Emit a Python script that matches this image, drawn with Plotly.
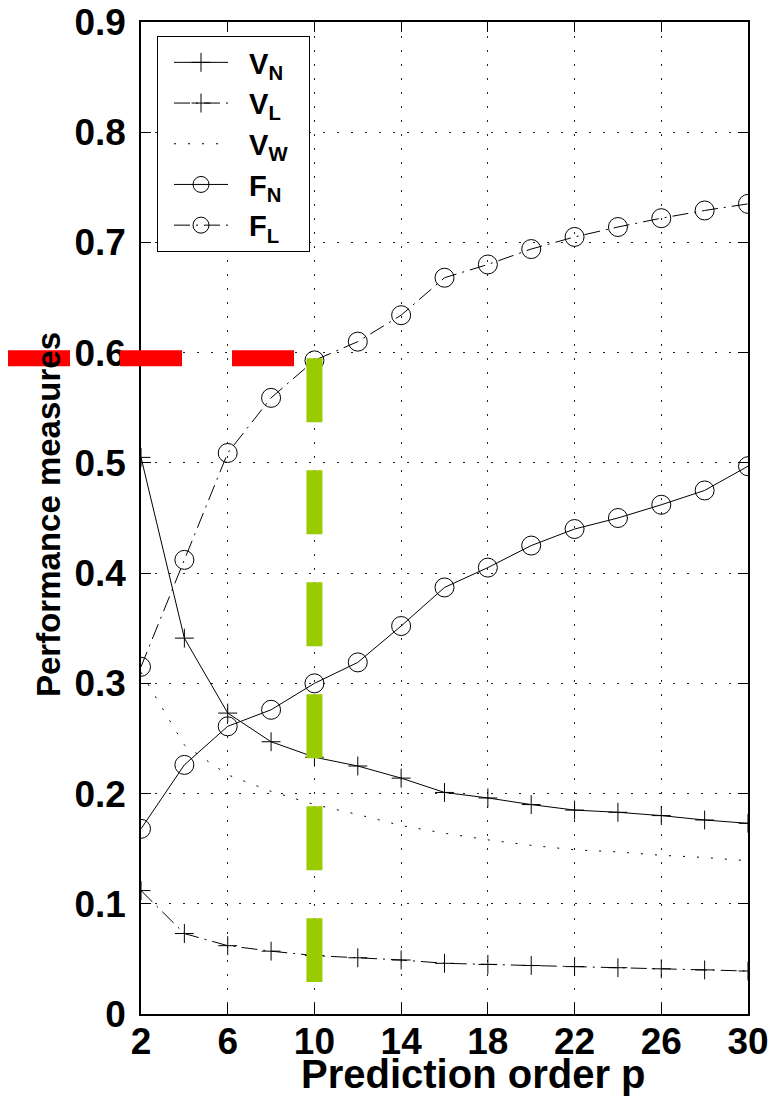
import plotly.graph_objects as go

# ---- data ----
p = [2, 4, 6, 8, 10, 12, 14, 16, 18, 20, 22, 24, 26, 28, 30]
V_N = [0.505, 0.341, 0.273, 0.247, 0.233, 0.225, 0.214, 0.201, 0.196, 0.190, 0.185, 0.183, 0.180, 0.176, 0.173]
V_L = [0.112, 0.073, 0.062, 0.057, 0.053, 0.051, 0.049, 0.046, 0.045, 0.044, 0.043, 0.042, 0.041, 0.040, 0.039]
V_W = [0.310, 0.244, 0.217, 0.202, 0.190, 0.181, 0.171, 0.164, 0.158, 0.153, 0.149, 0.147, 0.144, 0.142, 0.139]
F_N = [0.168, 0.226, 0.261, 0.276, 0.300, 0.319, 0.352, 0.387, 0.405, 0.425, 0.440, 0.450, 0.462, 0.475, 0.497]
F_L = [0.315, 0.412, 0.509, 0.559, 0.593, 0.610, 0.634, 0.668, 0.680, 0.694, 0.705, 0.714, 0.722, 0.729, 0.735]

x_tick_vals = [2, 6, 10, 14, 18, 22, 26, 30]
x_tick_text = ["2", "6", "10", "14", "18", "22", "26", "30"]
y_tick_vals = [0, 0.1, 0.2, 0.3, 0.4, 0.5, 0.6, 0.7, 0.8, 0.9]
y_tick_text = ["0", "0.1", "0.2", "0.3", "0.4", "0.5", "0.6", "0.7", "0.8", "0.9"]

highlight_p = 10         # selected prediction order (green marker line)
highlight_level = 0.595  # level of the red marker line
green_bottom = 0.029

# ---- styling ----
FONT = "Liberation Sans"
DASHDOT = "16px,6px,2px,6px"
DOTTED = "2px,12px"
NB = "\u00a0"

fig = go.Figure()

def add_series(y, name, dash, symbol):
    marker = dict(color="black", size=1, opacity=0)
    mode = "lines"
    if symbol == "plus":
        mode = "lines+markers"
        marker = dict(symbol="cross-thin-open", size=13.5, color="black",
                      line=dict(color="black", width=1))
    elif symbol == "circle":
        mode = "lines+markers"
        marker = dict(symbol="circle-open", size=19, color="black",
                      line=dict(color="black", width=1))
    fig.add_trace(go.Scatter(
        x=p, y=y, name=NB * 2 + name + NB * 2, mode=mode,
        line=dict(color="black", width=1, dash=dash),
        marker=marker,
    ))

add_series(V_N, "V<sub>N</sub>", "solid", "plus")
add_series(V_L, "V<sub>L</sub>", DASHDOT, "plus")
add_series(V_W, "V<sub>W</sub>", DOTTED, None)
add_series(F_N, "F<sub>N</sub>", "solid", "circle")
add_series(F_L, "F<sub>L</sub>", DASHDOT, "circle")

L, R, T, B = 141, 27, 22, 83
W, H = 775, 1097
plot_w = W - L - R
plot_h = H - T - B
y_max = 0.9

axis_common = dict(
    showline=True, linecolor="black", linewidth=1.5, mirror="ticks",
    ticks="inside", ticklen=10, tickcolor="black", tickwidth=1,
    showgrid=True, gridcolor="#222222", gridwidth=1, griddash=DOTTED,
    zeroline=False, automargin=False,
    tickfont=dict(family=FONT, size=37, color="black", weight="bold"),
)

fig.update_layout(
    template="none",
    width=W, height=H,
    margin=dict(l=L, r=R, t=T, b=B, pad=0, autoexpand=False),
    paper_bgcolor="white", plot_bgcolor="white",
    xaxis=dict(range=[2, 30], tickvals=x_tick_vals, ticktext=x_tick_text,
               ticklabelstandoff=-6, **axis_common),
    yaxis=dict(range=[0, y_max], tickvals=y_tick_vals, ticktext=y_tick_text,
               ticklabelstandoff=6, **axis_common),
    showlegend=True,
    legend=dict(
        x=(157 - L) / plot_w, y=1 - (36 - T) / plot_h,
        xanchor="left", yanchor="top",
        bgcolor="white", bordercolor="black", borderwidth=1,
        font=dict(family=FONT, size=29, color="black", weight="bold"),
        itemwidth=54, tracegroupgap=0, indentation=11,
    ),
    annotations=[
        dict(text="Prediction order p", xref="paper", yref="paper",
             x=(474 - L) / plot_w, y=-(1074 - (H - B)) / plot_h,
             showarrow=False, xanchor="center", yanchor="middle",
             font=dict(family=FONT, size=40, color="black", weight="bold")),
        dict(text="Performance measures", xref="paper", yref="paper",
             x=(48 - L) / plot_w, y=1 - (515 - T) / plot_h,
             showarrow=False, xanchor="center", yanchor="middle", textangle=-90,
             font=dict(family=FONT, size=33, color="black", weight="bold")),
    ],
    shapes=[
        dict(type="line", xref="paper", yref="paper",
             x0=(8 - L) / plot_w, x1=(295 - L) / plot_w,
             y0=highlight_level / y_max, y1=highlight_level / y_max,
             line=dict(color="#FF0000", width=16, dash="62px,50px"), layer="above"),
        dict(type="line", xref="x", yref="y",
             x0=highlight_p, x1=highlight_p, y0=highlight_level, y1=green_bottom,
             line=dict(color="#99CC00", width=16, dash="64px,48px"), layer="above"),
    ],
)

fig.write_html("out.html", config={"displayModeBar": False},
               post_script="document.body.style.margin='0';")
